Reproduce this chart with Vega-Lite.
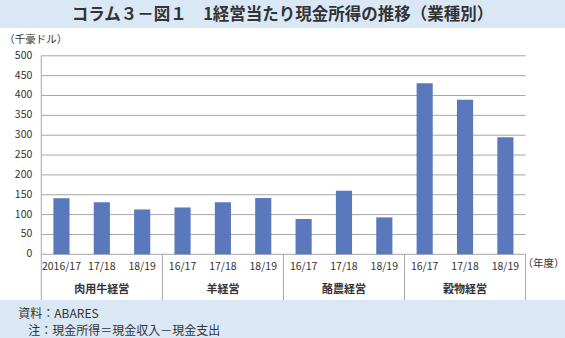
{
  "$schema": "https://vega.github.io/schema/vega-lite/v6.json",
  "width": 565,
  "height": 272,
  "autosize": {"type": "none"},
  "padding": {"left": 0, "top": 28, "right": 0, "bottom": 38},
  "background": "#dae8f6",
  "view": {"fill": "white", "stroke": null},
  "config": {
    "font": "Noto Sans CJK JP",
    "axis": {"labelColor": "#333333", "titleColor": "#333333", "labelFont": "Noto Sans CJK JP", "titleFont": "Noto Sans CJK JP"}
  },
  "title": {
    "text": "コラム３－図１　1経営当たり現金所得の推移（業種別）",
    "fontSize": 16.5,
    "fontWeight": "bold",
    "color": "#333333",
    "anchor": "middle",
    "frame": "group",
    "offset": 5
  },
  "datasets": {
    "bars": [
      {"cat": "肉用牛経営", "year": "2016/17", "key": "肉用牛経営|2016/17", "value": 141},
      {"cat": "肉用牛経営", "year": "17/18", "key": "肉用牛経営|17/18", "value": 131},
      {"cat": "肉用牛経営", "year": "18/19", "key": "肉用牛経営|18/19", "value": 113},
      {"cat": "羊経営", "year": "16/17", "key": "羊経営|16/17", "value": 118},
      {"cat": "羊経営", "year": "17/18", "key": "羊経営|17/18", "value": 131},
      {"cat": "羊経営", "year": "18/19", "key": "羊経営|18/19", "value": 142},
      {"cat": "酪農経営", "year": "16/17", "key": "酪農経営|16/17", "value": 89},
      {"cat": "酪農経営", "year": "17/18", "key": "酪農経営|17/18", "value": 160},
      {"cat": "酪農経営", "year": "18/19", "key": "酪農経営|18/19", "value": 93},
      {"cat": "穀物経営", "year": "16/17", "key": "穀物経営|16/17", "value": 431},
      {"cat": "穀物経営", "year": "17/18", "key": "穀物経営|17/18", "value": 389},
      {"cat": "穀物経営", "year": "18/19", "key": "穀物経営|18/19", "value": 295}
    ],
    "grid": [
      {"v": 0}, {"v": 50}, {"v": 100}, {"v": 150}, {"v": 200}, {"v": 250},
      {"v": 300}, {"v": 350}, {"v": 400}, {"v": 450}, {"v": 500}
    ],
    "seps": [
      {"key": "肉用牛経営|2016/17", "top": 500},
      {"key": "羊経営|16/17", "top": 0},
      {"key": "酪農経営|16/17", "top": 0},
      {"key": "穀物経営|16/17", "top": 0}
    ]
  },
  "layer": [
    {
      "data": {"name": "grid"},
      "mark": {"type": "rule", "color": "#a6a6a6", "strokeWidth": 1},
      "encoding": {
        "y": {
          "field": "v",
          "type": "quantitative",
          "scale": {"domain": [-115.1, 570], "nice": false, "zero": false},
          "axis": {
            "orient": "left",
            "offset": -44.3,
            "labels": false,
            "grid": false,
            "domain": false,
            "ticks": false,
            "title": "（千豪ドル）",
            "titleAngle": 0,
            "titleFontSize": 10.5,
            "titleFontWeight": "normal",
            "titleAlign": "center",
            "titleBaseline": "middle",
            "titleX": -9,
            "titleY": 11
          }
        },
        "x": {
          "datum": "肉用牛経営|2016/17",
          "type": "nominal",
          "bandPosition": 0,
          "scale": {
            "type": "band",
            "domain": ["肉用牛経営|2016/17", "肉用牛経営|17/18", "肉用牛経営|18/19", "羊経営|16/17", "羊経営|17/18", "羊経営|18/19", "酪農経営|16/17", "酪農経営|17/18", "酪農経営|18/19", "穀物経営|16/17", "穀物経営|17/18", "穀物経営|18/19"],
            "paddingInner": 0,
            "paddingOuter": 1.0855,
            "align": 0.5115,
            "round": false
          },
          "axis": {
            "orient": "bottom",
            "offset": -45.7,
            "bandPosition": 0.5,
            "domain": false,
            "ticks": false,
            "grid": false,
            "labelAngle": 0,
            "labelFontSize": 10.5,
            "labelPadding": 7,
            "labelOverlap": false,
            "labelExpr": "split(datum.value, '|')[1]",
            "title": "（年度）",
            "titleFontSize": 10.5,
            "titleFontWeight": "normal",
            "titleAlign": "left",
            "titleBaseline": "middle",
            "titleX": 522,
            "titleY": 9
          }
        },
        "x2": {"datum": "穀物経営|18/19", "bandPosition": 1}
      }
    },
    {
      "data": {"name": "grid"},
      "mark": {"type": "text", "fontSize": 10.5, "align": "right", "baseline": "middle", "color": "#333333", "dx": -9},
      "encoding": {
        "y": {"field": "v", "type": "quantitative"},
        "x": {"datum": "肉用牛経営|2016/17", "bandPosition": 0},
        "text": {"field": "v", "type": "quantitative"}
      }
    },
    {
      "data": {"name": "bars"},
      "mark": {"type": "bar", "color": "#5a79bd", "width": {"band": 0.4}},
      "encoding": {
        "x": {"field": "key", "type": "nominal"},
        "y": {"field": "value", "type": "quantitative"}
      }
    },
    {
      "data": {"name": "seps"},
      "mark": {"type": "rule", "color": "#a6a6a6", "strokeWidth": 1},
      "encoding": {
        "x": {"field": "key", "type": "nominal", "bandPosition": 0},
        "y": {"field": "top", "type": "quantitative"},
        "y2": {"datum": -115.1}
      }
    },
    {
      "data": {"name": "bars"},
      "transform": [{"filter": "datum.year == '18/19' && datum.cat == '穀物経営'"}],
      "mark": {"type": "rule", "color": "#a6a6a6", "strokeWidth": 1},
      "encoding": {
        "x": {"field": "key", "type": "nominal", "bandPosition": 1},
        "y": {"datum": 0},
        "y2": {"datum": -115.1}
      }
    },
    {
      "data": {"name": "bars"},
      "transform": [{"filter": "datum.year == '17/18'"}],
      "mark": {"type": "text", "fontSize": 11, "fontWeight": "bold", "color": "#333333", "baseline": "middle"},
      "encoding": {
        "x": {"field": "key", "type": "nominal", "bandPosition": 0.5},
        "y": {"datum": -90},
        "text": {"field": "cat", "type": "nominal"}
      }
    },
    {
      "data": {"values": [{"note": "資料：ABARES"}]},
      "mark": {
        "type": "text",
        "fontSize": 12,
        "align": "left",
        "baseline": "middle",
        "color": "#333333",
        "dx": -23
      },
      "encoding": {
        "x": {"datum": "肉用牛経営|2016/17", "bandPosition": 0},
        "y": {"datum": -150},
        "text": {"field": "note", "type": "nominal"}
      }
    },
    {
      "data": {"values": [{"note": "注：現金所得＝現金収入－現金支出"}]},
      "mark": {
        "type": "text",
        "fontSize": 12,
        "align": "left",
        "baseline": "middle",
        "color": "#333333",
        "dx": -13
      },
      "encoding": {
        "x": {"datum": "肉用牛経営|2016/17", "bandPosition": 0},
        "y": {"datum": -193},
        "text": {"field": "note", "type": "nominal"}
      }
    }
  ]
}
